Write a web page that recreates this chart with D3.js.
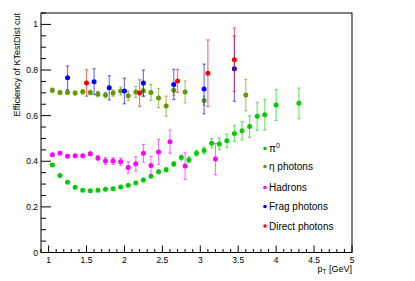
<!DOCTYPE html>
<html>
<head>
<meta charset="utf-8">
<script src="https://cdn.jsdelivr.net/npm/d3@7"></script>
<style>
  body { margin: 0; background: #fff; }
  text { font-family: "Liberation Sans", Arial, sans-serif; fill: #000; }
</style>
</head>
<body>
<div id="chart"></div>
<script>
// pi0
const pi0X = [1.05, 1.15, 1.25, 1.35, 1.45, 1.55, 1.65, 1.75, 1.85, 1.95, 2.05, 2.15, 2.25, 2.35, 2.45, 2.55, 2.65, 2.75, 2.85, 2.95, 3.05, 3.15, 3.25, 3.35, 3.45, 3.55, 3.65, 3.75, 3.85, 4.0, 4.3];
const pi0Y = [0.384, 0.338, 0.308, 0.286, 0.273, 0.271, 0.273, 0.277, 0.280, 0.287, 0.295, 0.305, 0.318, 0.334, 0.354, 0.363, 0.388, 0.416, 0.407, 0.435, 0.447, 0.479, 0.476, 0.490, 0.522, 0.534, 0.552, 0.597, 0.604, 0.647, 0.654];
const pi0E = [0.004, 0.004, 0.004, 0.004, 0.004, 0.004, 0.004, 0.005, 0.005, 0.005, 0.006, 0.006, 0.007, 0.007, 0.008, 0.009, 0.010, 0.011, 0.013, 0.012, 0.015, 0.020, 0.026, 0.029, 0.035, 0.040, 0.047, 0.061, 0.067, 0.068, 0.067];

// eta photons
const etaX = [1.05, 1.15, 1.25, 1.35, 1.45, 1.55, 1.65, 1.75, 1.85, 1.95, 2.05, 2.15, 2.25, 2.35, 2.45, 2.55, 2.65, 2.8, 3.05, 3.6];
const etaY = [0.711, 0.702, 0.702, 0.699, 0.705, 0.702, 0.695, 0.690, 0.699, 0.708, 0.687, 0.704, 0.709, 0.702, 0.677, 0.642, 0.711, 0.704, 0.666, 0.690];
const etaE = [0.010, 0.008, 0.008, 0.008, 0.010, 0.010, 0.012, 0.012, 0.014, 0.018, 0.020, 0.024, 0.026, 0.035, 0.042, 0.044, 0.022, 0.048, 0.020, 0.069];

// hadrons
const hadX = [1.05, 1.15, 1.25, 1.35, 1.45, 1.55, 1.65, 1.75, 1.85, 1.95, 2.05, 2.15, 2.25, 2.35, 2.45, 2.6, 2.8, 3.2];
const hadY = [0.429, 0.435, 0.422, 0.424, 0.424, 0.433, 0.414, 0.401, 0.401, 0.398, 0.373, 0.389, 0.435, 0.381, 0.441, 0.486, 0.379, 0.410];
const hadE = [0.004, 0.004, 0.005, 0.005, 0.006, 0.008, 0.010, 0.015, 0.015, 0.016, 0.025, 0.031, 0.039, 0.041, 0.055, 0.051, 0.058, 0.069];

// frag photons
const fragX = [1.25, 1.6, 1.8, 2.0, 2.25, 2.65, 3.05, 3.45];
const fragY = [0.766, 0.749, 0.722, 0.708, 0.743, 0.737, 0.717, 0.806];
const fragE = [0.052, 0.057, 0.053, 0.056, 0.057, 0.066, 0.109, 0.143];

// direct photons
const dirX = [1.5, 2.2, 2.7, 3.1, 3.45];
const dirY = [0.743, 0.699, 0.752, 0.786, 0.845];
const dirE = [0.058, 0.058, 0.050, 0.146, 0.139];

const xTicks = [1, 1.5, 2, 2.5, 3, 3.5, 4, 4.5, 5];
const yTicks = [0, 0.2, 0.4, 0.6, 0.8, 1];

const series = [
  { name: 'pi0', x: pi0X, y: pi0Y, e: pi0E, color: '#00cc00' },
  { name: 'eta photons', x: etaX, y: etaY, e: etaE, color: '#669900' },
  { name: 'Hadrons', x: hadX, y: hadY, e: hadE, color: '#ff00ff' },
  { name: 'Frag photons', x: fragX, y: fragY, e: fragE, color: '#0000ff' },
  { name: 'Direct photons', x: dirX, y: dirY, e: dirE, color: '#ff0000' }
];

const width = 415, height = 281;
const svg = d3.select('#chart').append('svg')
  .attr('width', width)
  .attr('height', height);

const x = d3.scaleLinear().domain([0.9, 5]).range([41, 352]);
const y = d3.scaleLinear().domain([0, 1.05]).range([252.5, 13]);

// frame
svg.append('rect')
  .attr('x', x(0.9)).attr('y', y(1.05))
  .attr('width', x(5) - x(0.9)).attr('height', y(0) - y(1.05))
  .attr('fill', 'none').attr('stroke', '#000').attr('stroke-width', 1);

// x ticks (inside, upward)
const xMinor = d3.range(9, 51).map(d => d / 10);
svg.append('g').selectAll('line').data(xMinor).enter().append('line')
  .attr('x1', d => x(d)).attr('x2', d => x(d))
  .attr('y1', y(0))
  .attr('y2', d => Math.abs(d * 2 - Math.round(d * 2)) < 1e-6 ? y(0) - 7 : y(0) - 3.5)
  .attr('stroke', '#000');
svg.append('g').selectAll('text').data(xTicks).enter().append('text')
  .attr('x', d => x(d)).attr('y', 263)
  .attr('text-anchor', 'middle')
  .style('font-size', '8.5px')
  .text(d => d);

// y ticks (inside, rightward)
const yMinor = d3.range(0, 22).map(d => d * 0.05);
svg.append('g').selectAll('line').data(yMinor).enter().append('line')
  .attr('y1', d => y(d)).attr('y2', d => y(d))
  .attr('x1', x(0.9))
  .attr('x2', (d, i) => i % 4 === 0 ? x(0.9) + 10 : x(0.9) + 5)
  .attr('stroke', '#000');
svg.append('g').selectAll('text').data(yTicks).enter().append('text')
  .attr('x', 38).attr('y', d => y(d) + 3)
  .attr('text-anchor', 'end')
  .style('font-size', '8.5px')
  .text(d => d);

// axis titles
const xt = svg.append('text')
  .attr('x', 352).attr('y', 271.5)
  .attr('text-anchor', 'end')
  .style('font-size', '9px');
xt.append('tspan').text('p');
xt.append('tspan').attr('dy', 2.5).style('font-size', '6.5px').text('T');
xt.append('tspan').attr('dy', -2.5).text(' [GeV]');

svg.append('text')
  .attr('transform', 'translate(20,13) rotate(-90)')
  .attr('text-anchor', 'end')
  .style('font-size', '9px')
  .text('Efficiency of KTestDist cut');

// data
series.forEach(s => {
  const pts = s.x.map((xv, i) => ({ x: xv, y: s.y[i], e: s.e[i] }));
  const g = svg.append('g');
  const eg = g.append('g').attr('stroke', s.color).attr('stroke-opacity', 0.55).attr('stroke-width', 1.2);
  pts.forEach(p => {
    const cx = x(p.x);
    eg.append('line').attr('x1', cx).attr('x2', cx).attr('y1', y(p.y - p.e)).attr('y2', y(p.y + p.e));
    eg.append('line').attr('x1', cx - 1.6).attr('x2', cx + 1.6).attr('y1', y(p.y - p.e)).attr('y2', y(p.y - p.e));
    eg.append('line').attr('x1', cx - 1.6).attr('x2', cx + 1.6).attr('y1', y(p.y + p.e)).attr('y2', y(p.y + p.e));
  });
  g.selectAll('circle').data(pts).enter().append('circle')
    .attr('cx', d => x(d.x)).attr('cy', d => y(d.y))
    .attr('r', 2.5)
    .attr('fill', s.color);
});

// legend
const legendY = [148.5, 166.5, 187.5, 206.5, 226];
const leg = svg.append('g');
series.forEach((s, i) => {
  leg.append('circle').attr('cx', 265).attr('cy', legendY[i]).attr('r', 1.8).attr('fill', s.color);
  const t = leg.append('text').attr('x', 269).attr('y', legendY[i] + 3.5).style('font-size', '10px');
  if (i === 0) {
    t.append('tspan').text('\u03c0');
    t.append('tspan').attr('dy', -4).style('font-size', '7px').text('0');
  } else if (i === 1) {
    t.text('\u03b7 photons');
  } else {
    t.text(s.name);
  }
});
</script>
</body>
</html>
